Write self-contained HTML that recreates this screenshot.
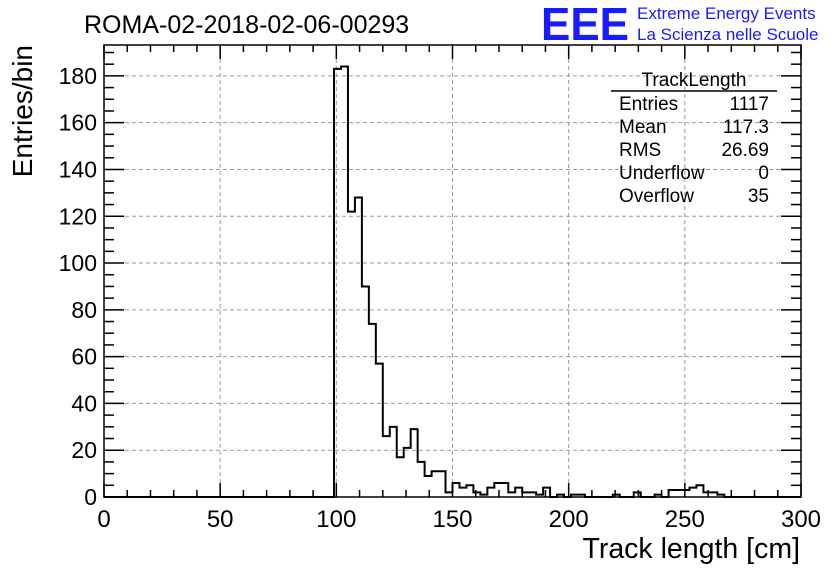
<!DOCTYPE html>
<html><head><meta charset="utf-8"><style>
body{margin:0;background:#fff;}
svg text{font-family:"Liberation Sans",sans-serif;}
</style></head><body>
<svg width="836" height="572" xmlns="http://www.w3.org/2000/svg">
<rect width="836" height="572" fill="#fff"/>
<text x="84" y="33" font-size="25">ROMA-02-2018-02-06-00293</text>
<text x="541" y="40" font-size="46" font-weight="bold" fill="#1a1aff" textLength="88" lengthAdjust="spacingAndGlyphs">EEE</text>
<text x="637" y="19" font-size="17" fill="#1a1aff">Extreme Energy Events</text>
<text x="637" y="40" font-size="17" fill="#1a1aff">La Scienza nelle Scuole</text>
<g id="grid"></g>
<g id="axes"></g>
<path id="hist" fill="none" stroke="#000" stroke-width="2"/>
<rect x="104" y="45" width="697" height="452" fill="none" stroke="#000" stroke-width="1.5"/>
<text x="800" y="558" font-size="28.5" text-anchor="end">Track length [cm]</text>
<text transform="translate(32,45) rotate(-90)" font-size="28" text-anchor="end">Entries/bin</text>
<g font-size="19">
<text x="694" y="86" text-anchor="middle">TrackLength</text>
<line x1="611" y1="91" x2="777" y2="91" stroke="#000" stroke-width="1.5"/>
<text x="619" y="110">Entries</text><text x="769" y="110" text-anchor="end">1117</text>
<text x="619" y="133">Mean</text><text x="769" y="133" text-anchor="end">117.3</text>
<text x="619" y="156">RMS</text><text x="769" y="156" text-anchor="end">26.69</text>
<text x="619" y="179">Underflow</text><text x="769" y="179" text-anchor="end">0</text>
<text x="619" y="202">Overflow</text><text x="769" y="202" text-anchor="end">35</text>
</g>
</svg>
<script>
const binWidth = 3;
const binCounts = [0,0,0,0,0,0,0,0,0,0,0,0,0,0,0,0,0,0,0,0,0,0,0,0,0,0,0,0,0,0,0,0,0,
183,184,122,128,90,74,57,26,30,17,21,29,15,9,11,11,2,6,4,5,2,1,4,6,6,2,4,2,2,1,4,0,1,0,1,1,0,0,0,0,1,0,0,2,0,0,1,0,3,3,3,4,5,2,2,1,0,0,0,0,0,0,0,0,0,0,0];
const xTicks = [0,50,100,150,200,250,300];
const yTicks = [0,20,40,60,80,100,120,140,160,180];
const X0=104,X1=801,Y0=497,Y1=45;
const xs=v=>X0+(v/300)*(X1-X0);
const ys=v=>Y0-(v/193.2)*(Y0-Y1);
const NS='http://www.w3.org/2000/svg';
const grid=document.getElementById('grid'), axes=document.getElementById('axes');
function mk(tag,attrs,parent){const e=document.createElementNS(NS,tag);for(const k in attrs)e.setAttribute(k,attrs[k]);parent.appendChild(e);return e;}
xTicks.forEach(t=>{
  if(t>0&&t<300){const g=mk('line',{x1:xs(t),x2:xs(t),y1:Y0,y2:Y1,stroke:'#999','stroke-dasharray':'4,3'},grid);}
  const l=mk('text',{x:xs(t),y:527,'font-size':24,'text-anchor':'middle'},axes);l.textContent=t;
  
});
for(let v=0;v<=300;v+=10){const len=v%50===0?14:7;
  mk('line',{x1:xs(v),x2:xs(v),y1:Y0,y2:Y0-len,stroke:'#000','stroke-width':1.5},axes);
  mk('line',{x1:xs(v),x2:xs(v),y1:Y1,y2:Y1+len,stroke:'#000','stroke-width':1.5},axes);}
yTicks.forEach(t=>{
  if(t>0){const g=mk('line',{x1:X0,x2:X1,y1:ys(t),y2:ys(t),stroke:'#999','stroke-dasharray':'4,3'},grid);}
  const l=mk('text',{x:97,y:ys(t)+8,'font-size':23,'text-anchor':'end'},axes);l.textContent=t;
  
});
for(let v=0;v<=190;v+=5){const len=v%20===0?20:10;
  mk('line',{x1:X0,x2:X0+len,y1:ys(v),y2:ys(v),stroke:'#000','stroke-width':1.5},axes);
  mk('line',{x1:X1,x2:X1-len,y1:ys(v),y2:ys(v),stroke:'#000','stroke-width':1.5},axes);}
let d='M'+xs(0)+','+ys(0);
binCounts.forEach((c,i)=>{d+=' L'+xs(i*binWidth)+','+ys(c)+' L'+xs((i+1)*binWidth)+','+ys(c);});
d+=' L'+xs(300)+','+ys(0);
document.getElementById('hist').setAttribute('d',d);
</script>
</body></html>
